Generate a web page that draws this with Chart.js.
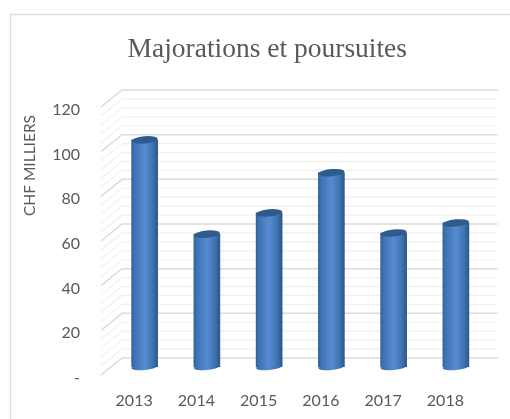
<!DOCTYPE html>
<html><head><meta charset="utf-8">
<style>html,body{margin:0;padding:0;background:#fff}canvas{display:block}</style>
<script src="https://cdn.jsdelivr.net/npm/chart.js@4"></script>
</head><body>
<div style="width:510px;height:419px"><canvas id="c" width="510" height="419"></canvas></div>
<script>
const categories = ['2013','2014','2015','2016','2017','2018'];
const values = [101.7,59.5,69,87,60,64.5];
const seriesName = 'Majorations et poursuites';
const axisName = 'CHF MILLIERS';
const yMax = 120, yMajor = 20, yMinor = 4;

const depthX = 21, depthY = 17, barShiftX = 10.5, barShiftY = 8;

const depth3d = {
  id:'depth3d',
  afterLayout(chart){
    const t = chart.titleBlock;
    if(t && !t._shifted){t.left += 29; t.right += 29; t._shifted = true;}
    const s = chart.scales.y;
    if(!s._wrapped){
      const origT = s.drawTitle, origL = s.drawLabels;
      s.drawTitle = function(){const c=this.ctx;c.save();c.translate(0,8);origT.call(this);c.restore();};
      s.drawLabels = function(a){const c=this.ctx;c.save();c.translate(0,3);origL.call(this,a);c.restore();};
      s._wrapped = true;
    }
  },
  beforeDraw(chart){
    const c = chart.ctx;
    c.save();
    c.strokeStyle='#dedede';c.lineWidth=1.5;
    c.beginPath();
    c.moveTo(10.5,419);c.lineTo(10.5,14.5);c.lineTo(510,14.5);
    c.stroke();
    c.restore();
  },
  beforeDatasetsDraw(chart){
    const c = chart.ctx, y = chart.scales.y, a = chart.chartArea;
    c.save();
    for(let v=0;v<=yMax;v+=yMinor){
      const p = y.getPixelForValue(v), major = v%yMajor===0;
      c.strokeStyle = major?'#dcdcdc':'#f0f0f0';
      c.lineWidth = major?1.5:1.2;
      c.beginPath();
      c.moveTo(a.left-2,p);
      c.lineTo(a.left-2+depthX,p-depthY);
      c.lineTo(a.right+depthX,p-depthY);
      c.stroke();
    }
    c.restore();
    c.save();
    c.translate(barShiftX,-barShiftY);
  },
  afterDatasetsDraw(chart){
    const c = chart.ctx;
    chart.getDatasetMeta(0).data.forEach(b=>{
      const rx = b.width/2, g = barFill(c,b.x,rx);
      c.fillStyle = g;
      c.beginPath();
      c.ellipse(b.x,b.base,rx,3,-0.1,0,Math.PI*2);
      c.fill();
      c.fillStyle='#2f5a8c';
      c.beginPath();
      c.ellipse(b.x,b.y,rx,3.6,-0.1,0,Math.PI*2);
      c.fill();
    });
    c.restore();
  }
};
function barFill(c,x,rx){
  if(!Number.isFinite(x)) return '#4a80c4';
  const g = c.createLinearGradient(x-rx,0,x+rx,0);
  g.addColorStop(0,'#32639c');
  g.addColorStop(0.12,'#3f74b4');
  g.addColorStop(0.5,'#558cd2');
  g.addColorStop(0.82,'#3f72b0');
  g.addColorStop(1,'#2c5788');
  return g;
}
new Chart(document.getElementById('c'),{
  type:'bar',
  data:{labels:categories,datasets:[{
    label:seriesName,
    data:values,
    barThickness:26,
    borderWidth:0,
    backgroundColor(ctx){
      const ch = ctx.chart, xs = ch.scales.x;
      if(!xs) return '#4a80c4';
      return barFill(ch.ctx,xs.getPixelForValue(ctx.dataIndex),13);
    }
  }]},
  plugins:[depth3d],
  options:{
    responsive:false,animation:false,
    layout:{padding:{left:0,right:33.5,top:0,bottom:0}},
    plugins:{
      legend:{display:false},tooltip:{enabled:false},
      title:{display:true,text:seriesName,color:'#595959',
        font:{family:'"Liberation Serif"',size:27.5,weight:'normal'},
        padding:{top:33,bottom:41}}
    },
    scales:{
      x:{grid:{display:false,drawTicks:false},border:{display:false},
        ticks:{color:'#595959',font:{family:'Lato',size:16},padding:16,maxRotation:0},
        afterFit(s){s.height=44;}},
      y:{min:0,max:yMax,grid:{display:false,drawTicks:false},border:{display:false},
        ticks:{stepSize:yMajor,color:'#595959',font:{family:'Lato',size:16},padding:23,
          callback:v=>v===0?'-':String(v)},
        title:{display:true,text:axisName,align:'end',color:'#595959',
          font:{family:'Lato',size:15.5,weight:'normal'},padding:{top:21,bottom:0}},
        afterFit(s){s.width=103;}}
    }
  }
});
</script>
</body></html>
